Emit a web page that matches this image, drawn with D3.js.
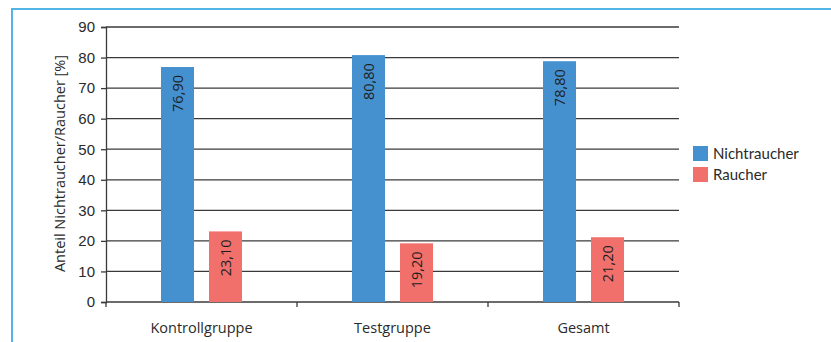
<!DOCTYPE html>
<html>
<head>
<meta charset="utf-8">
<script src="https://cdn.jsdelivr.net/npm/d3@7"></script>
<style>
  html, body { margin: 0; padding: 0; background: #fff; }
  svg { display: block; font-family: "Open Sans", "DejaVu Sans", sans-serif; }
</style>
</head>
<body>
<svg id="chart" width="831" height="342"></svg>
<script>
// Anteil Nichtraucher / Raucher je Gruppe (%)
const categories = ["Kontrollgruppe", "Testgruppe", "Gesamt"];
const seriesNames = ["Nichtraucher", "Raucher"];
const nichtraucher = [76.9, 80.8, 78.8];
const raucher = [23.1, 19.2, 21.2];
const yTicks = [0, 10, 20, 30, 40, 50, 60, 70, 80, 90];
const yTitle = "Anteil Nichtraucher/Raucher [%]";

const colors = ["#4591d0", "#f2706c"];
const values = [nichtraucher, raucher];

const svg = d3.select("#chart");
const W = 831, H = 342;

// Rahmen (nur oben und links sichtbar)
svg.append("path")
  .attr("d", `M12,${H} L12,9 L${W},9`)
  .attr("fill", "none")
  .attr("stroke", "#52b5e5")
  .attr("stroke-width", 2);

const plotLeft = 106, plotRight = 679, plotTop = 27, plotBottom = 302;
const groupWidth = 81;

const x0 = d3.scaleBand().domain(categories).range([plotLeft, plotRight]);
const x1 = d3.scaleBand().domain(seriesNames).range([0, groupWidth]).paddingInner(0.3125);
const y = d3.scaleLinear().domain([0, 90]).range([plotBottom, plotTop]);

// Gitterlinien
svg.append("g")
  .selectAll("line")
  .data(yTicks.filter(t => t > 0))
  .join("line")
  .attr("x1", plotLeft).attr("x2", plotRight)
  .attr("y1", d => y(d)).attr("y2", d => y(d))
  .attr("stroke", "#3a3a3a")
  .attr("stroke-width", 1.3);

// y-Achse
const yAxis = svg.append("g")
  .attr("transform", `translate(${plotLeft},0)`)
  .call(d3.axisLeft(y).tickValues(yTicks).tickSize(5).tickPadding(6));
yAxis.select(".domain").attr("stroke", "#3a3a3a").attr("stroke-width", 1.3);
yAxis.selectAll(".tick line").attr("stroke", "#3a3a3a").attr("stroke-width", 1.3);
yAxis.selectAll("text").attr("font-size", 15).attr("fill", "#2a2a2a");

// x-Achse mit Trennstrichen an den Kategoriegrenzen
const xAxis = svg.append("g").attr("transform", `translate(0,${plotBottom})`);
xAxis.append("line")
  .attr("x1", plotLeft).attr("x2", plotRight)
  .attr("stroke", "#3a3a3a").attr("stroke-width", 1.3);
const bounds = categories.map(c => x0(c)).concat([x0(categories[2]) + x0.bandwidth()]);
xAxis.selectAll("line.sep")
  .data(bounds)
  .join("line")
  .attr("class", "sep")
  .attr("x1", d => d).attr("x2", d => d)
  .attr("y1", 0).attr("y2", 5)
  .attr("stroke", "#3a3a3a").attr("stroke-width", 1.3);
xAxis.selectAll("text")
  .data(categories)
  .join("text")
  .attr("x", d => x0(d) + x0.bandwidth() / 2)
  .attr("y", 31)
  .attr("text-anchor", "middle")
  .attr("font-size", 14.5)
  .attr("fill", "#2a2a2a")
  .text(d => d);

// Balken
const groups = svg.append("g")
  .selectAll("g")
  .data(categories)
  .join("g")
  .attr("transform", d => `translate(${x0(d) + x0.bandwidth() / 2 - groupWidth / 2},0)`);

groups.each(function (cat, ci) {
  const g = d3.select(this);
  seriesNames.forEach((s, si) => {
    const v = values[si][ci];
    const bx = x1(s), bw = x1.bandwidth();
    g.append("rect")
      .attr("x", bx).attr("width", bw)
      .attr("y", y(v)).attr("height", y(0) - y(v))
      .attr("fill", colors[si]);
    g.append("text")
      .attr("transform", `translate(${bx + bw / 2 + 5},${y(v) + 8}) rotate(-90)`)
      .attr("text-anchor", "end")
      .attr("font-size", 14.5)
      .attr("fill", "#1e1e1e")
      .text(v.toFixed(2).replace(".", ","));
  });
});

// y-Achsentitel
svg.append("text")
  .attr("transform", `translate(65,${(plotTop + plotBottom) / 2 - 1}) rotate(-90)`)
  .attr("text-anchor", "middle")
  .attr("font-size", 14.5)
  .attr("fill", "#2a2a2a")
  .text(yTitle);

// Legende
const legend = svg.append("g").attr("transform", "translate(693,146)");
seriesNames.forEach((s, i) => {
  legend.append("rect")
    .attr("x", 0).attr("y", i * 21)
    .attr("width", 15).attr("height", 15)
    .attr("fill", colors[i]);
  legend.append("text")
    .attr("x", 20).attr("y", i * 21 + 12.5)
    .attr("font-family", "Lato, 'Open Sans', sans-serif")
    .attr("font-size", 15)
    .attr("fill", "#2a2a2a")
    .text(s);
});
</script>
</body>
</html>
